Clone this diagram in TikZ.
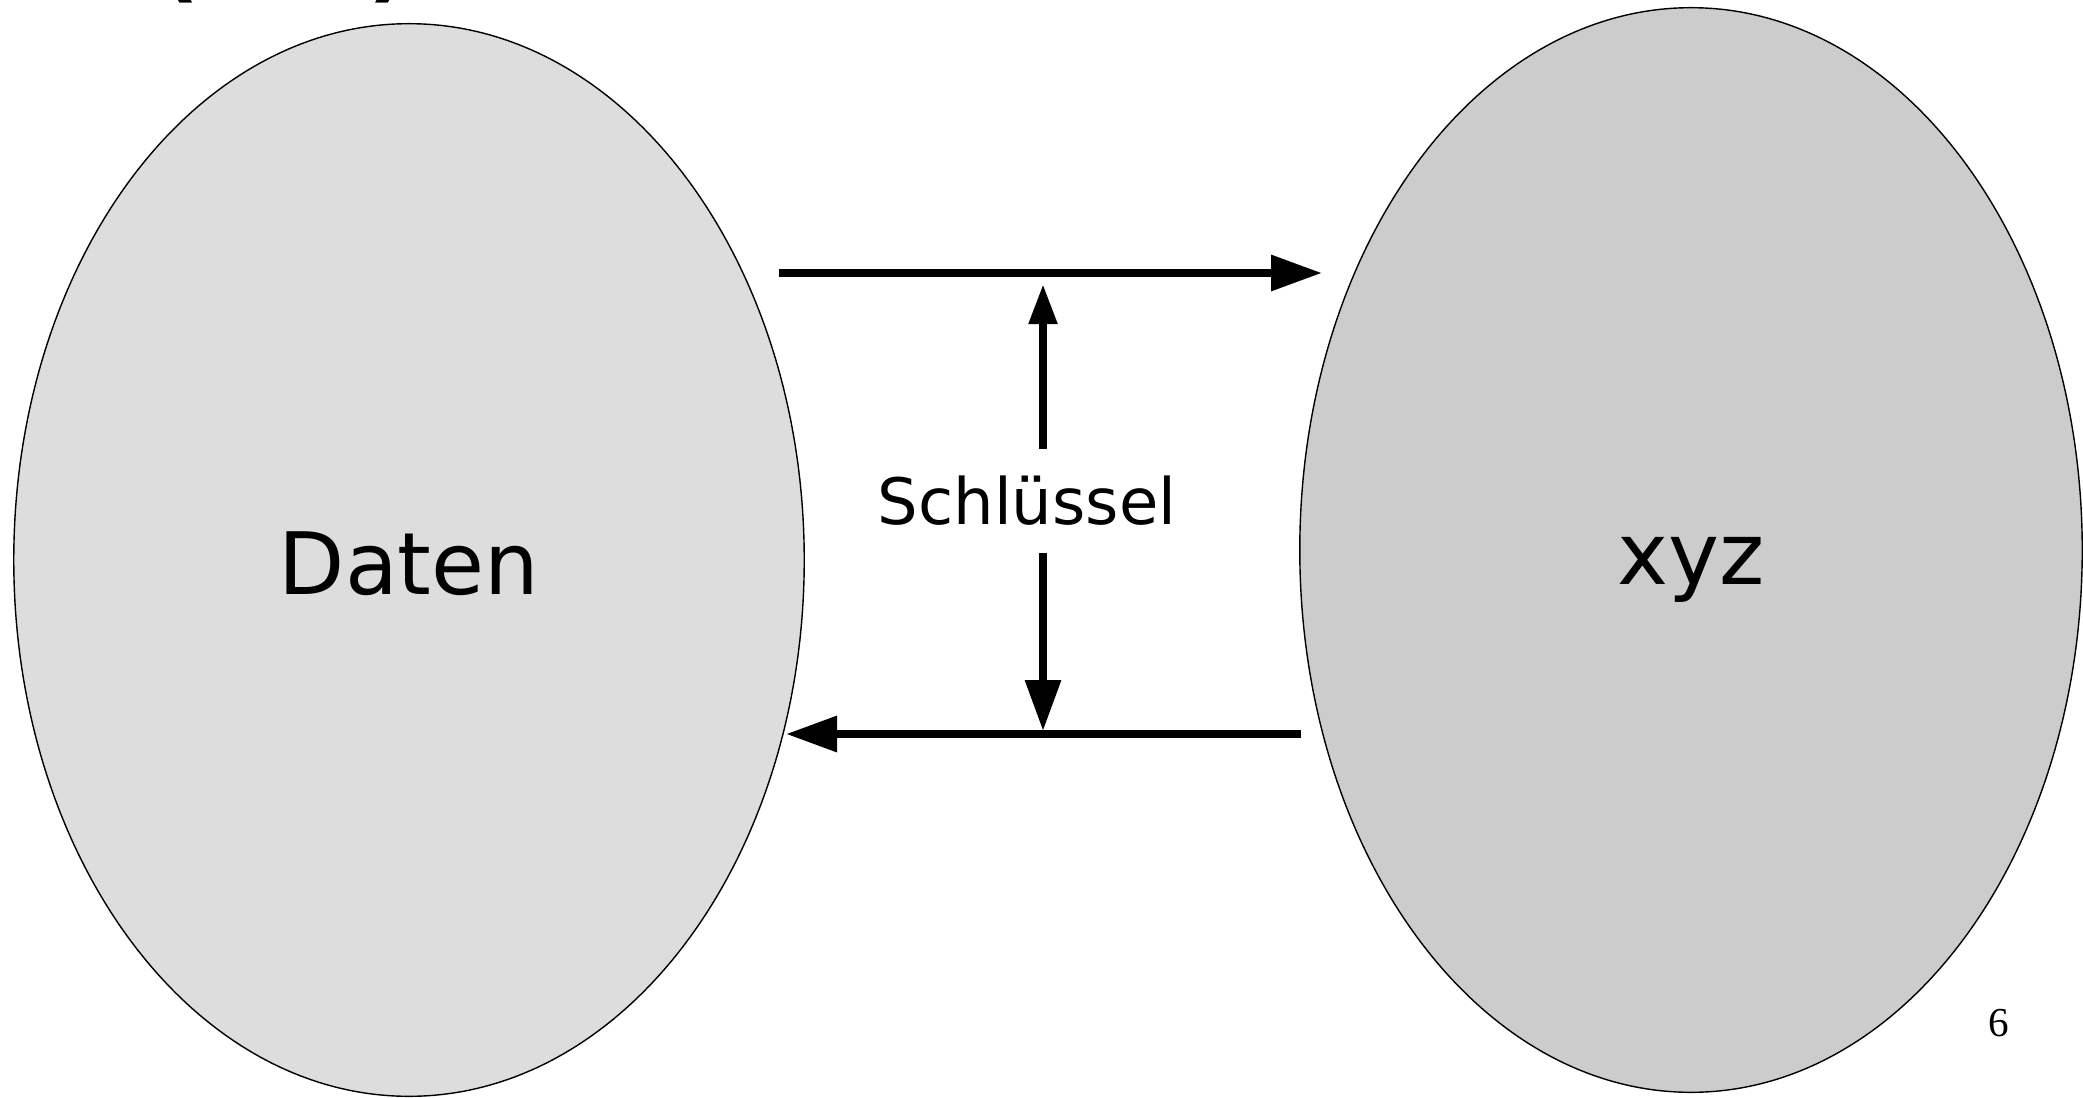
\documentclass[tikz,border=0pt]{standalone}
\usepackage{fontspec}
\setmainfont{DejaVu Sans}
\newfontfamily\pagenofont{Liberation Serif}
\usepackage{tikz}
\usetikzlibrary{
  arrows.meta,
  positioning,
  shapes.geometric
}
\definecolor{plainfill}{RGB}{221,221,221}
\definecolor{cipherfill}{RGB}{204,204,204}
\tikzset{
  blob/.style={ellipse,draw=black,line width=0.4pt,inner sep=0pt,
    font=\fontsize{24.5}{30}\selectfont,text height=19.9pt,text depth=0pt},
  keylab/.style={inner sep=0pt,minimum height=1.03cm,
    font=\fontsize{18.2}{22}\selectfont},
  pageno/.style={inner sep=0pt,font=\pagenofont\fontsize{11.7}{14}\selectfont},
  titlebit/.style={inner sep=0pt,font=\fontsize{25}{30}\selectfont\bfseries},
  flow/.style={-{Triangle[length=14.5pt,width=9.8pt]},line width=2.28pt},
  keyflow/.style={-{Triangle[length=11.4pt,width=7.7pt]},line width=2.28pt}
}

\begin{document}
\begin{tikzpicture}[x=0.01cm,y=-0.01cm]
  \useasboundingbox (0,0) rectangle (2083,1097);
  \node[titlebit,anchor=south west] (title) at (159,4) {(\hspace*{48pt})};
  \node[blob,fill=plainfill,minimum width=7.90cm,minimum height=10.72cm] (daten) at (409,560) {Daten};
  \node[blob,fill=cipherfill,minimum width=7.82cm,minimum height=10.84cm] (xyz) at (1691,550) {xyz};
  \node[keylab] (key) at (1027,501) {Schlüssel};
  \node[pageno] (page) at (1999,1023) {6};
  \coordinate (encfrom) at (779,273);
  \coordinate (encto) at (1322,273);
  \coordinate (decfrom) at (1301,734);
  \coordinate (decto) at (786,734);
  \coordinate (keytop) at (1043,284);
  \coordinate (keybot) at (1043,731);
  \draw[flow] (encfrom)--(encto);
  \draw[flow] (decfrom)--(decto);
  \draw[keyflow] (key.north -| keytop)--(keytop);
  \draw[flow] (key.south -| keybot)--(keybot);
\end{tikzpicture}
\end{document}
